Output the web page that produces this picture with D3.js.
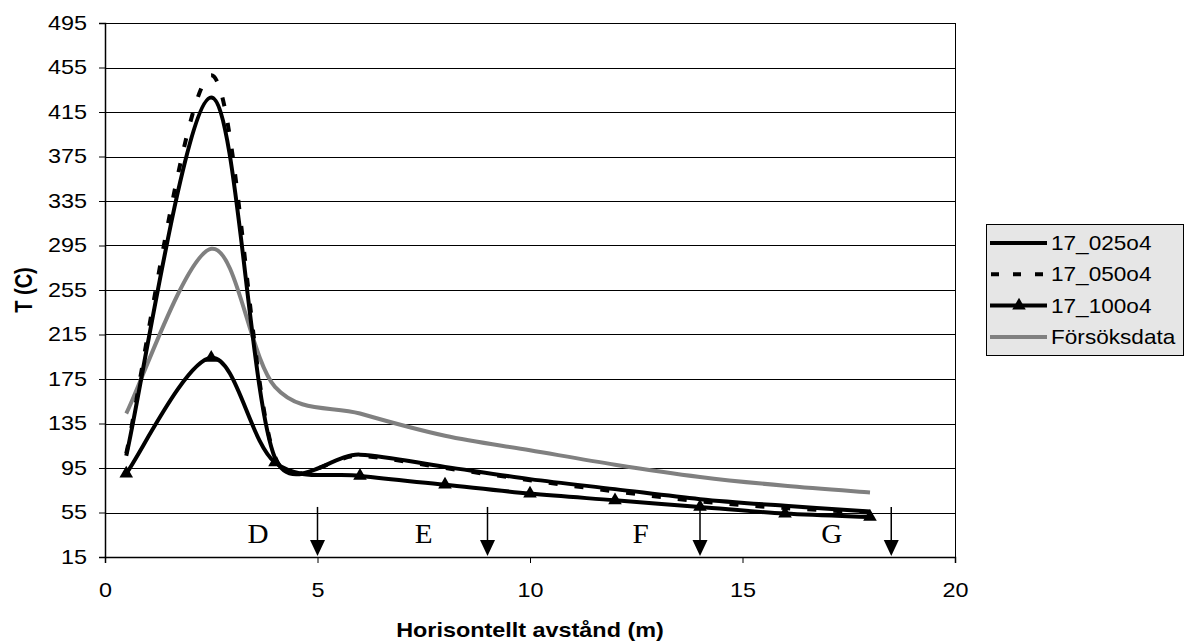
<!DOCTYPE html>
<html>
<head>
<meta charset="utf-8">
<script src="https://cdn.jsdelivr.net/npm/d3@7"></script>
<style>
  body { margin: 0; background: #fff; }
</style>
</head>
<body>
<script>
// distance along the tunnel (m)
var distances = [0.5, 2.5, 4, 6, 8, 10, 12, 14, 16, 18];

// temperatures (C) per series
var t025 = [106, 428, 104, 107, 96, 85, 76, 67, 61, 56];
var t050 = [108, 448, 105, 106, 95, 84, 74, 65, 59, 55];
var t100 = [90, 194, 100, 88, 80, 72, 66, 60, 54, 51];
var tTest = [144, 292, 168, 144, 124, 111, 98, 87, 79, 73];

var seriesNames = ["17_025o4", "17_050o4", "17_100o4", "Försöksdata"];

// axis ticks
var xTicks = [0, 5, 10, 15, 20];
var yTicks = [15, 55, 95, 135, 175, 215, 255, 295, 335, 375, 415, 455, 495];

// section markers
var sectionLabels = ["D", "E", "F", "G"];
var sectionLabelX = [3.6, 7.5, 12.6, 17.1];
var arrowX = [5, 9, 14, 18.5];

var W = 1185, H = 642;
var margin = { top: 23, left: 105 };
var width = 955 - margin.left;
var height = 557 - margin.top;
var SX = 1.17; // the source picture is a bit wider than tall
var sans = "Arial, 'Liberation Sans', sans-serif";

// widen text horizontally around its own anchor
function stretch(sel, sx) {
    sel.each(function() {
        var t = d3.select(this);
        var x0 = +t.attr("x") || 0;
        t.attr("x", x0 / sx).attr("transform", "scale(" + sx + ",1)");
    });
}

var svg = d3.select("body")
    .append("svg")
    .attr("width", W)
    .attr("height", H);

var g = svg.append("g")
    .attr("transform", "translate(" + margin.left + "," + margin.top + ")");

var x = d3.scaleLinear().domain([0, 20]).range([0, width]);
var y = d3.scaleLinear().domain([15, 495]).range([height, 0]);

// gridlines
g.selectAll(".grid")
    .data(yTicks)
    .enter()
    .append("line")
    .attr("x1", 0)
    .attr("x2", width)
    .attr("y1", function(d) { return Math.round(y(d)) + 0.5; })
    .attr("y2", function(d) { return Math.round(y(d)) + 0.5; })
    .attr("stroke", "#000")
    .attr("stroke-width", 1);

// right border
g.append("line")
    .attr("x1", width + 0.5).attr("x2", width + 0.5)
    .attr("y1", y(495)).attr("y2", y(15))
    .attr("stroke", "#000");

// axes
var yAxis = g.append("g")
    .call(d3.axisLeft(y).tickValues(yTicks).tickSize(6).tickPadding(12));
var xAxis = g.append("g")
    .attr("transform", "translate(0," + height + ")")
    .call(d3.axisBottom(x).tickValues(xTicks).tickSize(6).tickPadding(20));

[yAxis, xAxis].forEach(function(a) {
    a.select(".domain").attr("stroke", "#000").attr("stroke-width", 1.5);
    a.selectAll("line").attr("stroke", "#000");
    a.selectAll("text")
        .style("font-family", sans)
        .style("font-size", "20px")
        .attr("fill", "#000")
        .call(stretch, SX);
});

// axis titles
g.append("text")
    .attr("x", width / 2)
    .attr("y", height + 80)
    .attr("text-anchor", "middle")
    .style("font-family", sans)
    .style("font-size", "20px")
    .style("font-weight", "bold")
    .text("Horisontellt avstånd (m)")
    .call(stretch, SX);

g.append("text")
    .attr("transform", "translate(-73," + (290 - margin.top) + ") rotate(-90) scale(1," + SX + ")")
    .attr("text-anchor", "middle")
    .style("font-family", sans)
    .style("font-size", "20px")
    .style("font-weight", "bold")
    .text("T (C)");

// section arrows
var arrows = g.selectAll(".arrow")
    .data(arrowX)
    .enter()
    .append("g")
    .attr("class", "arrow");
arrows.append("line")
    .attr("x1", function(d) { return x(d); })
    .attr("x2", function(d) { return x(d); })
    .attr("y1", y(60))
    .attr("y2", height - 10)
    .attr("stroke", "#000")
    .attr("stroke-width", 1.5);
arrows.append("path")
    .attr("d", function(d) {
        var cx = x(d);
        return "M" + (cx - 7.5) + "," + (height - 17) + "L" + (cx + 7.5) + "," + (height - 17) + "L" + cx + "," + (height - 1) + "Z";
    })
    .attr("fill", "#000");

g.selectAll(".section")
    .data(sectionLabels)
    .enter()
    .append("text")
    .attr("x", function(d, i) { return x(sectionLabelX[i]); })
    .attr("y", height - 14)
    .attr("text-anchor", "middle")
    .style("font-family", "'Liberation Serif', 'Times New Roman', serif")
    .style("font-size", "27px")
    .text(function(d) { return d; })
    .call(stretch, 1.08);

// smoothed line, spreadsheet style: bezier handles of 1/6 of the neighbour
// chord, but never longer than half of the segment they sit on
function smooth(vals) {
    var p = distances.map(function(d, i) { return [x(d), y(vals[i])]; });
    var n = p.length;
    var path = d3.path();
    function handle(i, seg) {
        var a = p[Math.max(i - 1, 0)], b = p[Math.min(i + 1, n - 1)];
        var hx = (b[0] - a[0]) / 6, hy = (b[1] - a[1]) / 6;
        var hl = Math.hypot(hx, hy), sl = Math.hypot(seg[0], seg[1]);
        var s = hl > 0.5 * sl ? 0.5 * sl / hl : 1;
        return [hx * s, hy * s];
    }
    path.moveTo(p[0][0], p[0][1]);
    for (var i = 0; i < n - 1; i++) {
        var seg = [p[i + 1][0] - p[i][0], p[i + 1][1] - p[i][1]];
        var h0 = handle(i, seg), h1 = handle(i + 1, seg);
        path.bezierCurveTo(p[i][0] + h0[0], p[i][1] + h0[1],
            p[i + 1][0] - h1[0], p[i + 1][1] - h1[1],
            p[i + 1][0], p[i + 1][1]);
    }
    return path.toString();
}

var series = [
    { name: seriesNames[3], vals: tTest, color: "#808080", dash: null },
    { name: seriesNames[2], vals: t100, color: "#000", dash: null },
    { name: seriesNames[1], vals: t050, color: "#000", dash: "9,17" },
    { name: seriesNames[0], vals: t025, color: "#000", dash: null }
];

g.selectAll(".series")
    .data(series)
    .enter()
    .append("path")
    .attr("class", "series")
    .attr("d", function(d) { return smooth(d.vals); })
    .attr("fill", "none")
    .attr("stroke", function(d) { return d.color; })
    .attr("stroke-width", 4)
    .attr("stroke-dasharray", function(d) { return d.dash; });

var tri = d3.symbol().type(d3.symbolTriangle).size(80);
g.selectAll(".tri")
    .data(distances)
    .enter()
    .append("path")
    .attr("d", tri)
    .attr("transform", function(d, i) { return "translate(" + x(d) + "," + y(t100[i]) + ")"; })
    .attr("fill", "#000");

// legend
var legend = svg.append("g").attr("transform", "translate(986,224)");
legend.append("rect")
    .attr("x", 0.5).attr("y", 0.5)
    .attr("width", 197).attr("height", 131)
    .attr("fill", "#e6e6e6")
    .attr("stroke", "#000")
    .attr("stroke-width", 1);

var legendStyle = [
    { color: "#000", dash: null, marker: false },
    { color: "#000", dash: "8,14", marker: false },
    { color: "#000", dash: null, marker: true },
    { color: "#808080", dash: null, marker: false }
];

var rows = legend.selectAll(".row")
    .data(seriesNames)
    .enter()
    .append("g")
    .attr("transform", function(d, i) { return "translate(0," + (19 + i * 31.3) + ")"; });

rows.append("line")
    .attr("x1", function(d, i) { return legendStyle[i].dash ? 5 : 4; })
    .attr("x2", 61)
    .attr("y1", 0).attr("y2", 0)
    .attr("stroke", function(d, i) { return legendStyle[i].color; })
    .attr("stroke-width", 4)
    .attr("stroke-dasharray", function(d, i) { return legendStyle[i].dash; });

rows.filter(function(d, i) { return legendStyle[i].marker; })
    .append("path")
    .attr("d", tri)
    .attr("transform", "translate(33,0)")
    .attr("fill", "#000");

rows.append("text")
    .attr("x", 65)
    .attr("y", 7)
    .style("font-family", sans)
    .style("font-size", "20px")
    .text(function(d) { return d; })
    .call(stretch, 1.13);
</script>
</body>
</html>
